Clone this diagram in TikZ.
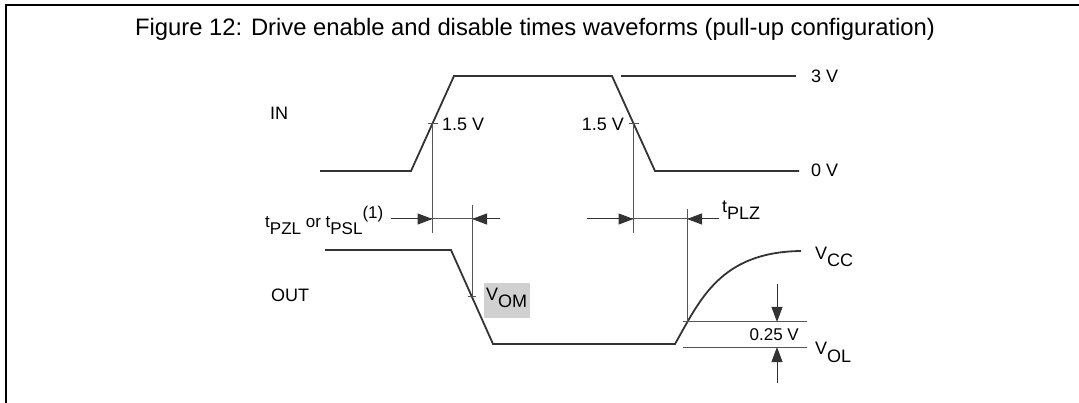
\documentclass[tikz,border=0pt]{standalone}
\usepackage{fontspec}
\setmainfont{Liberation Sans}
\usetikzlibrary{arrows.meta}
\definecolor{wavec}{RGB}{51,51,51}
\definecolor{thinc}{RGB}{85,85,85}
\definecolor{vboxc}{RGB}{208,208,208}
\newcommand{\lo}[1]{\raisebox{-7pt}{#1}}
\newcommand{\hi}[1]{\raisebox{9pt}{#1}}
\begin{document}
\begin{tikzpicture}[x=1pt,y=-1pt,
  wave/.style={draw=wavec,line width=1.8pt,line join=miter},
  refln/.style={draw=wavec,line width=1.3pt},
  thinln/.style={draw=thinc,line width=1pt},
  dimarrow/.style={draw=thinc,line width=1pt,-{Triangle[length=15pt,width=11pt]},color=wavec},
  lbl/.style={inner sep=0pt,font=\fontsize{18}{21}\selectfont,text=black},
  slbl/.style={inner sep=0pt,font=\fontsize{17}{20}\selectfont,text=black}]
\useasboundingbox (0,0) rectangle (1079,403);
% frame
\draw[line width=2.5pt] (6,403) -- (6,5) -- (1079,5);
% title
\node[inner sep=0pt,anchor=base,font=\fontsize{23.8}{28}\selectfont] (title) at (535,36)
  {Figure 12: Drive enable and disable times waveforms (pull-up configuration)};
% IN waveform
\coordinate (i0) at (320,171);
\coordinate (i1) at (411,171);
\coordinate (i2) at (454,76);
\coordinate (i3) at (612,76);
\coordinate (i4) at (655,171);
\coordinate (i5) at (799,171);
\draw[wave] (i0) -- (i1) -- (i2) -- (i3) -- (i4) -- (i5);
\coordinate (h0) at (621,76);
\coordinate (h1) at (796,76);
\draw[refln] (h0) -- (h1);
\node[lbl,anchor=base west] (v3) at (811,83) {3 V};
\node[lbl,anchor=base west] (v0) at (811,177) {0 V};
\node[lbl,anchor=base west] (inl) at (270,120) {IN};
% 1.5 V crossings
\coordinate (c1) at (432.5,123.5);
\coordinate (c2) at (633.5,123.5);
\coordinate (c1b) at (432.5,233);
\coordinate (c2b) at (633.5,233);
\draw[thinln] ([xshift=-5pt]c1) -- ([xshift=5pt]c1);
\draw[thinln] ([xshift=-5pt]c2) -- ([xshift=5pt]c2);
\draw[thinln] (c1) -- (c1b);
\draw[thinln] (c2) -- (c2b);
\node[lbl,anchor=base west] (l15a) at (442,131) {1.5 V};
\node[lbl,anchor=base east] (l15b) at (624,131) {1.5 V};
% OUT waveform
\coordinate (o0) at (325,250);
\coordinate (o1) at (451,250);
\coordinate (o2) at (493,344);
\coordinate (o3) at (675,344);
\coordinate (o4) at (801,251);
\draw[wave] (o0) -- (o1) -- (o2) -- (o3) .. controls (700,300) and (720,252) .. (o4);
\node[lbl,anchor=base west] (outl) at (271,302) {OUT};
% VOM
\coordinate (m) at (472,297);
\coordinate (mt) at (472,205);
\draw[thinln] (mt) -- (m);
\draw[thinln] ([xshift=-4pt]m) -- ([xshift=4pt]m);
\node[fill=vboxc,inner sep=0pt,minimum width=46pt,minimum height=35pt] (vom) at (507,300.5) {};
\node[lbl,anchor=base west] (voml) at (486,301) {V\lo{OM}};
% PLZ crossing
\coordinate (p) at (687,322);
\coordinate (pt) at (687,209);
\draw[thinln] (pt) -- (p);
% dimension arrows for enable / disable times
\coordinate (a1) at (391,219);
\coordinate (a1t) at (432.5,219);
\coordinate (a2) at (500,219);
\coordinate (a2t) at (472,219);
\coordinate (a3) at (587,219);
\coordinate (a3t) at (633.5,219);
\coordinate (a4) at (719,219);
\coordinate (a4t) at (687,219);
\draw[thinln] (a1) -- (a2);
\draw[thinln] (a3) -- (a4);
\draw[dimarrow] (a1) -- (a1t);
\draw[dimarrow] (a2) -- (a2t);
\draw[dimarrow] (a3) -- (a3t);
\draw[dimarrow] (a4) -- (a4t);
\node[slbl,anchor=base west] (tpzl) at (265,228) {t\lo{PZL} or t\lo{PSL}\hi{(1)}};
\node[lbl,anchor=base west] (tplz) at (722,213) {t\lo{PLZ}};
% 0.25 V
\coordinate (r0) at (683,322);
\coordinate (r1) at (807,322);
\coordinate (s0) at (683,347);
\coordinate (s1) at (807,347);
\draw[thinln] (r0) -- (r1);
\draw[thinln] (s0) -- (s1);
\coordinate (d0) at (777,284);
\coordinate (d0t) at (777,322);
\coordinate (d1) at (777,383);
\coordinate (d1t) at (777,347);
\draw[dimarrow] (d0) -- (d0t);
\draw[dimarrow] (d1) -- (d1t);
\node[slbl,anchor=base east] (q25) at (799,341) {0.25 V};
\node[lbl,anchor=base west] (vcc) at (815,260) {V\lo{CC}};
\node[lbl,anchor=base west] (vol) at (815,355) {V\lo{OL}};
\end{tikzpicture}
\end{document}
